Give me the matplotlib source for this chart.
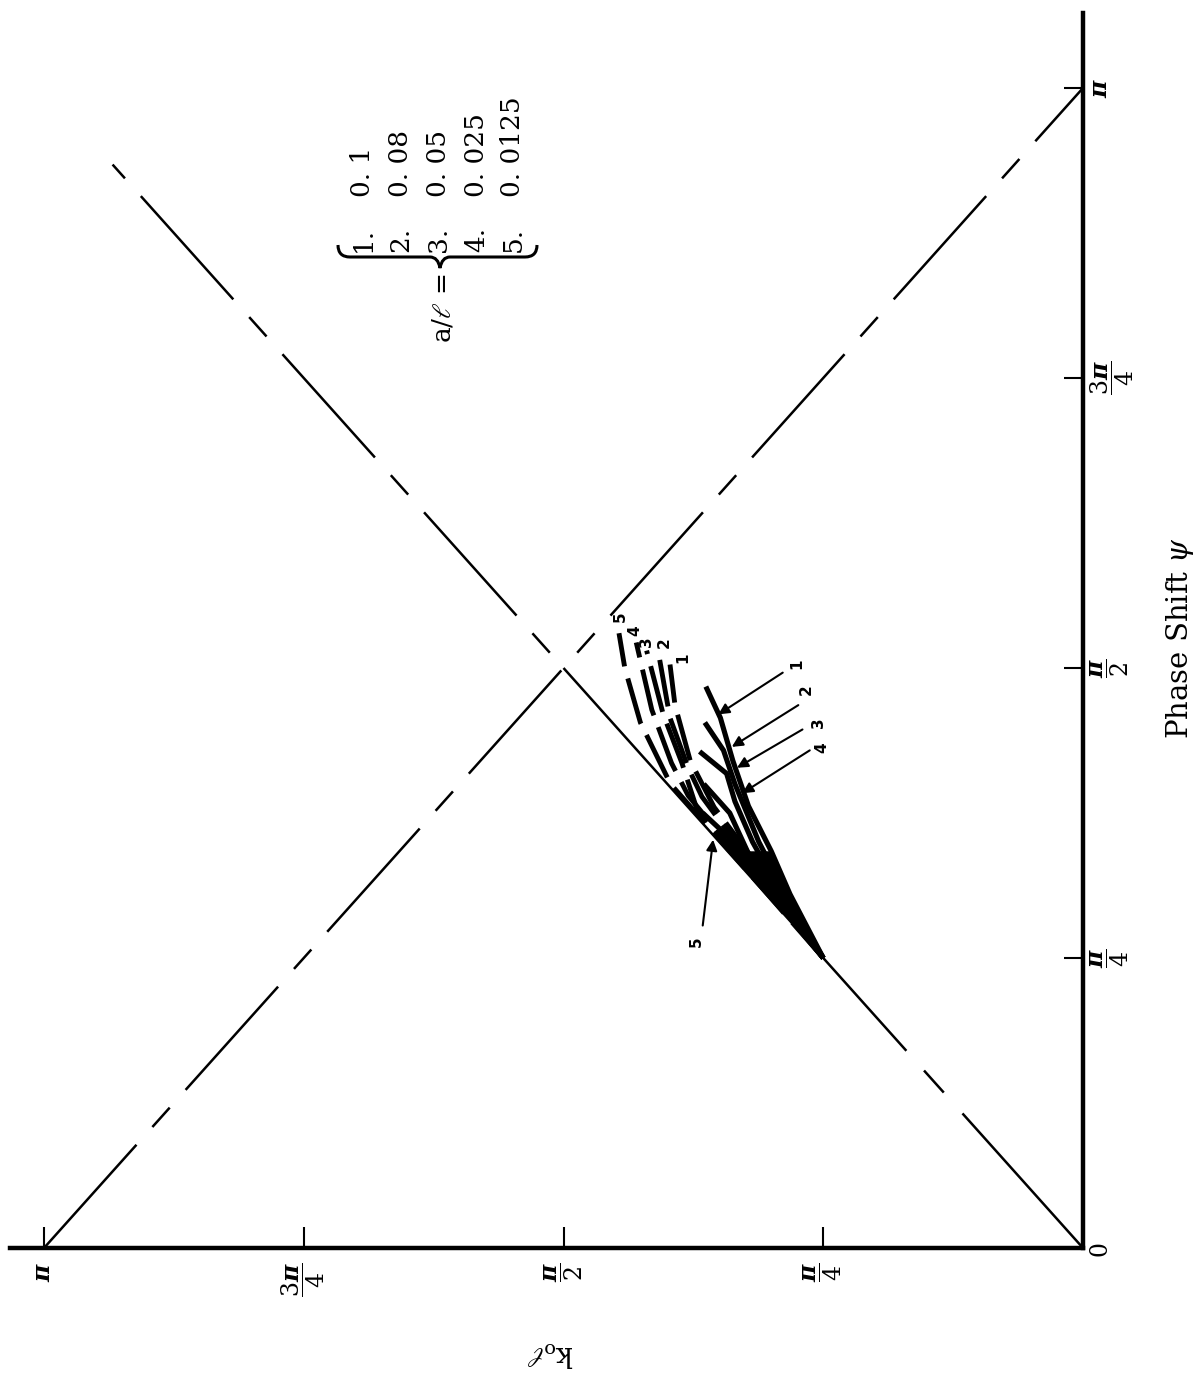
import numpy as np
import matplotlib
matplotlib.use("Agg")
import matplotlib.pyplot as plt
from matplotlib.path import Path
from matplotlib.patches import PathPatch

plt.rcParams['font.family'] = ['DejaVu Serif']
plt.rcParams['mathtext.fontset'] = 'dejavuserif'
plt.rcParams['lines.scale_dashes'] = False
plt.rcParams['lines.solid_capstyle'] = 'butt'
plt.rcParams['lines.dash_capstyle'] = 'butt'

# everything below is in units of pi
k_ticks = [0.25, 0.5, 0.75, 1.0]
k_tick_labels = [r'$\dfrac{\boldsymbol{\pi}}{4}$', r'$\dfrac{\boldsymbol{\pi}}{2}$',
                 r'$\dfrac{3\boldsymbol{\pi}}{4}$', r'$\boldsymbol{\pi}$']
psi_ticks = [0.0, 0.25, 0.5, 0.75, 1.0]
psi_tick_labels = ['0'] + k_tick_labels

# light lines k = psi and k = pi - psi
psi_full = [0.0, 1.0]
k_bwd = [1.0, 0.0]
psi_fwd_low = [0.0, 0.5]
psi_fwd_high = [0.5, 0.934]

# dispersion curves (psi, k) for a/l = 1..5, solid part
solid_psi = [
    [0.25, 0.305, 0.342, 0.381, 0.42, 0.457, 0.484],
    [0.25, 0.30, 0.35, 0.40, 0.429, 0.453],
    [0.25, 0.30, 0.35, 0.385, 0.409, 0.428],
    [0.25, 0.30, 0.34, 0.375, 0.40],
    [0.25, 0.30, 0.33, 0.355, 0.375],
]
solid_k = [
    [0.25, 0.282, 0.300, 0.322, 0.337, 0.349, 0.363],
    [0.25, 0.283, 0.312, 0.335, 0.346, 0.364],
    [0.25, 0.287, 0.318, 0.335, 0.343, 0.369],
    [0.25, 0.292, 0.322, 0.340, 0.365],
    [0.25, 0.296, 0.322, 0.342, 0.366],
]
# dashed part
dashed_psi = [
    [0.25, 0.32, 0.38, 0.42, 0.468, 0.503],
    [0.25, 0.32, 0.389, 0.414, 0.457, 0.510],
    [0.25, 0.33, 0.378, 0.418, 0.46, 0.515],
    [0.25, 0.33, 0.39, 0.418, 0.464, 0.522],
    [0.25, 0.33, 0.40, 0.453, 0.50, 0.530],
]
dashed_k = [
    [0.25, 0.305, 0.355, 0.378, 0.3927, 0.3975],
    [0.25, 0.31, 0.3667, 0.380, 0.3975, 0.408],
    [0.25, 0.322, 0.3715, 0.386, 0.404, 0.420],
    [0.25, 0.325, 0.38, 0.396, 0.415, 0.430],
    [0.25, 0.328, 0.397, 0.426, 0.441, 0.4466],
]
curve_ids = ['1', '2', '3', '4', '5']
dashed_label_psi = [0.504, 0.517, 0.518, 0.528, 0.540]
dashed_label_k = [0.385, 0.403, 0.420, 0.431, 0.445]

# arrows pointing at the solid curves
arrow_tail_psi = [0.496, 0.468, 0.447, 0.429, 0.278]
arrow_tail_k = [0.289, 0.274, 0.270, 0.263, 0.366]
arrow_head_psi = [0.460, 0.432, 0.414, 0.392, 0.352]
arrow_head_k = [0.351, 0.338, 0.333, 0.328, 0.356]
arrow_label_psi = [0.504, 0.481, 0.453, 0.431, 0.264]
arrow_label_k = [0.275, 0.266, 0.255, 0.251, 0.372]

legend_nums = ['1.', '2.', '3.', '4.', '5.']
a_over_l = ['0. 1', '0. 08', '0. 05', '0. 025', '0. 0125']

W, H = 1194, 1378
fig = plt.figure(figsize=(W / 100, H / 100), dpi=100)


def fx(x):
    return x / W


def fy(y):
    return 1 - y / H


# axes: k runs leftwards along bottom, psi upwards along right side
x0, x1, y0, y1 = 10, 1083, 13, 1248
ax = fig.add_axes([fx(x0), fy(y1), (x1 - x0) / W, (y1 - y0) / H])
k_max = (x1 - x0) / 1039.0
psi_max = (y1 - y0) / 1160.0
ax.set_xlim(k_max, 0)
ax.set_ylim(0, psi_max)

for s in ['top', 'left']:
    ax.spines[s].set_visible(False)
for s in ['bottom', 'right']:
    ax.spines[s].set_linewidth(3.2)

ax.yaxis.tick_right()
ax.set_xticks(k_ticks)
ax.set_xticklabels(k_tick_labels, rotation=90, fontsize=17)
ax.set_yticks(psi_ticks)
ax.set_yticklabels(psi_tick_labels, rotation=90, fontsize=17, va='center')
ax.tick_params(axis='x', direction='in', length=15, width=1.5, pad=10)
ax.tick_params(axis='y', direction='in', length=14, width=1.5, pad=4)

# dash lengths in points per unit of psi along a 45 degree light line
ppu = np.hypot((x1 - x0) / k_max, (y1 - y0) / psi_max) * 0.72
pat = (0.089 * ppu, 0.0153 * ppu, 0.0167 * ppu, 0.0153 * ppu)
pat_low = (0.116 * ppu, 0.018 * ppu, 0.019 * ppu, 0.017 * ppu, 0.5 * ppu, 1)

lw_light = 1.8
ax.plot(k_bwd, psi_full, color='black', lw=lw_light, linestyle=(0, pat))
ax.plot(psi_fwd_low, psi_fwd_low, color='black', lw=lw_light, linestyle=(0, pat_low))
ax.plot(psi_fwd_high, psi_fwd_high, color='black', lw=lw_light,
        linestyle=(psi_fwd_high[0] * ppu, pat))

# dense black wedge where the curves leave pi/4
wedge_k = solid_k[0][:3] + [solid_psi[0][2]]
wedge_psi = solid_psi[0][:3] + [solid_psi[0][2]]
ax.fill(wedge_k, wedge_psi, color='black', lw=0, zorder=3)

for i in range(5):
    ax.plot(solid_k[i], solid_psi[i], color='black', lw=3.7, solid_joinstyle='round', zorder=3)
    ax.plot(dashed_k[i], dashed_psi[i], color='black', lw=3.5,
            linestyle=(0, (34, 9)), zorder=3)
    ax.text(dashed_label_k[i], dashed_label_psi[i], curve_ids[i], rotation=90,
            fontsize=11, fontweight='bold', family='DejaVu Sans',
            ha='center', va='bottom')
    ax.annotate('', xy=(arrow_head_k[i], arrow_head_psi[i]),
                xytext=(arrow_tail_k[i], arrow_tail_psi[i]),
                arrowprops=dict(arrowstyle='-|>', lw=1.5, color='black',
                                mutation_scale=16, shrinkA=0, shrinkB=0), zorder=4)
    ax.text(arrow_label_k[i], arrow_label_psi[i], curve_ids[i], rotation=90,
            fontsize=11, fontweight='bold', family='DejaVu Sans',
            ha='center', va='center')

# legend block, rotated like the rest of the figure
col_x = [363, 401, 439, 477, 513]
for i in range(5):
    fig.text(fx(col_x[i]), fy(252), legend_nums[i], rotation=90, fontsize=19,
             ha='center', va='bottom')
    fig.text(fx(col_x[i]), fy(197), a_over_l[i], rotation=90, fontsize=19,
             ha='center', va='bottom')
fig.text(fx(443), fy(343), r'a/$\ell$ =', rotation=90, fontsize=19,
         ha='center', va='bottom')

# brace
xl, xr, xm, yb, ye, yt = 338, 537, 440, 257, 245, 268
verts = [(xl, ye), (xl, yb), (xl + 12, yb), (xm - 10, yb), (xm - 2, yb), (xm, yt),
         (xm + 2, yb), (xm + 10, yb), (xr - 12, yb), (xr, yb), (xr, ye)]
codes = [Path.MOVETO, Path.CURVE3, Path.CURVE3, Path.LINETO, Path.CURVE3, Path.CURVE3,
         Path.CURVE3, Path.CURVE3, Path.LINETO, Path.CURVE3, Path.CURVE3]
verts = [(fx(a), fy(b)) for a, b in verts]
fig.add_artist(PathPatch(Path(verts, codes), fill=False, lw=2.2, color='black',
                         transform=fig.transFigure))

fig.text(fx(1180), fy(638), r'Phase Shift $\psi$', rotation=90, fontsize=21,
         ha='center', va='center')
fig.text(fx(550), fy(1354), r'k$_\mathrm{o}\ell$', rotation=180, fontsize=20,
         ha='center', va='center')

fig.savefig('out.png', dpi=100, facecolor='white')
